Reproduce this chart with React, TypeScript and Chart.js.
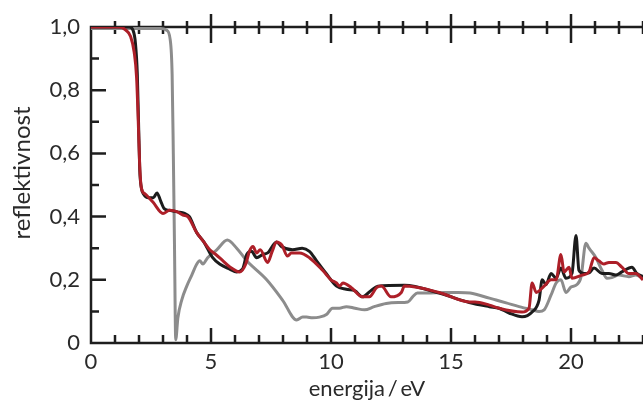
import { useEffect, useRef } from "react";
import { Chart, registerables } from "chart.js";
Chart.register(...registerables);

const redX = [0, 1.2, 1.45, 1.65, 1.8, 1.9, 1.97, 2.03, 2.1, 2.25, 2.58, 3.0, 3.28, 3.6, 3.83, 4.03, 4.4, 4.7, 4.95, 5.2, 5.5, 5.8, 6.2, 6.45, 6.6, 6.75, 6.9, 7.05, 7.36, 7.55, 7.73, 7.95, 8.19, 8.35, 8.69, 9.1, 9.65, 10.0, 10.23, 10.35, 10.5, 10.85, 11.31, 11.6, 11.9, 12.1, 12.5, 12.93, 13.06, 14.5, 15.76, 16.0, 16.6, 17.0, 17.96, 18.25, 18.38, 18.55, 18.88, 19.17, 19.38, 19.58, 19.71, 19.92, 20.04, 20.46, 20.75, 20.96, 21.16, 21.37, 21.58, 21.87, 22.12, 22.41, 22.7, 23.0];
const redY = [1.0, 1.0, 0.99, 0.97, 0.92, 0.84, 0.7, 0.56, 0.49, 0.472, 0.446, 0.41, 0.42, 0.415, 0.405, 0.4, 0.35, 0.32, 0.295, 0.28, 0.26, 0.24, 0.225, 0.25, 0.29, 0.305, 0.285, 0.295, 0.255, 0.29, 0.32, 0.31, 0.275, 0.285, 0.285, 0.27, 0.23, 0.2, 0.19, 0.18, 0.19, 0.175, 0.146, 0.146, 0.175, 0.18, 0.146, 0.16, 0.18, 0.16, 0.13, 0.13, 0.12, 0.11, 0.098, 0.11, 0.19, 0.16, 0.18, 0.2, 0.2, 0.28, 0.225, 0.24, 0.205, 0.215, 0.225, 0.27, 0.26, 0.25, 0.255, 0.255, 0.24, 0.22, 0.22, 0.2];

const blackX = [0, 1.6, 1.75, 1.85, 1.93, 1.98, 2.03, 2.1, 2.2, 2.4, 2.6, 2.75, 2.9, 3.05, 3.25, 3.6, 3.9, 4.1, 4.4, 4.7, 5.07, 5.36, 5.78, 6.07, 6.32, 6.49, 6.69, 6.9, 7.15, 7.36, 7.73, 7.94, 8.4, 8.8, 9.1, 9.4, 9.8, 10.23, 10.64, 11.0, 11.31, 11.65, 11.95, 13.06, 14.5, 15.76, 16.6, 17.0, 17.42, 17.96, 18.38, 18.67, 18.8, 18.96, 19.17, 19.38, 19.58, 19.79, 20.04, 20.21, 20.33, 20.54, 20.75, 20.96, 21.29, 21.58, 21.87, 22.12, 22.54, 22.74, 23.0];
const blackY = [1.0, 1.0, 0.99, 0.95, 0.85, 0.7, 0.55, 0.49, 0.47, 0.46, 0.46, 0.475, 0.45, 0.425, 0.42, 0.415, 0.41, 0.4, 0.35, 0.32, 0.27, 0.25, 0.234, 0.225, 0.235, 0.28, 0.29, 0.27, 0.28, 0.285, 0.32, 0.305, 0.295, 0.3, 0.29, 0.26, 0.22, 0.18, 0.17, 0.165, 0.146, 0.165, 0.18, 0.183, 0.158, 0.128, 0.115, 0.11, 0.095, 0.083, 0.098, 0.136, 0.2, 0.185, 0.22, 0.205, 0.237, 0.205, 0.22, 0.34, 0.23, 0.22, 0.222, 0.237, 0.22, 0.22, 0.215, 0.225, 0.24, 0.22, 0.21];

const grayX = [0, 2.9, 3.15, 3.3, 3.38, 3.43, 3.48, 3.53, 3.62, 3.78, 3.99, 4.2, 4.41, 4.53, 4.66, 4.86, 5.24, 5.68, 6.07, 6.49, 7.32, 7.98, 8.57, 8.82, 8.98, 9.23, 9.52, 9.81, 10.06, 10.35, 10.64, 11.0, 11.4, 11.8, 12.3, 12.8, 13.2, 13.4, 13.6, 14.0, 14.7, 15.3, 15.8, 16.6, 16.88, 17.3, 17.84, 18.38, 18.67, 18.88, 19.17, 19.38, 19.58, 19.79, 20.0, 20.25, 20.42, 20.62, 20.75, 21.04, 21.29, 21.5, 21.7, 21.99, 22.41, 22.7, 23.0];
const grayY = [0.995, 0.995, 0.99, 0.96, 0.85, 0.6, 0.3, 0.01, 0.08, 0.136, 0.18, 0.215, 0.25, 0.26, 0.25, 0.27, 0.295, 0.326, 0.3, 0.26, 0.2, 0.136, 0.073, 0.082, 0.082, 0.08, 0.082, 0.09, 0.11, 0.11, 0.115, 0.11, 0.105, 0.115, 0.125, 0.128, 0.13, 0.146, 0.158, 0.158, 0.16, 0.16, 0.158, 0.142, 0.136, 0.127, 0.115, 0.105, 0.1, 0.105, 0.152, 0.19, 0.2, 0.16, 0.177, 0.185, 0.21, 0.316, 0.3, 0.27, 0.23, 0.205, 0.207, 0.215, 0.21, 0.215, 0.205];

const xMin = 0;
const xMax = 23;
const yMin = 0;
const yMax = 1;
const xMinorStep = 1;
const xMajorEvery = 5;
const yMinorStep = 0.1;

const xTitle = "energija\u2009/\u2009eV";
const yTitle = "reflektivnost";

const FONT = "Lato";
const TEXT = "#2a2a2a";
const AXIS = "#1e1e1e";

const toPoints = (xs: number[], ys: number[]) => xs.map((x, i) => ({ x, y: ys[i] }));

const axesPlugin = {
  id: "customAxes",
  beforeDatasetsDraw(chart: any) {
    const { ctx, chartArea, scales } = chart;
    const { left, right, top, bottom } = chartArea;
    const xs = scales.x;
    const ys = scales.y;
    ctx.save();
    ctx.strokeStyle = AXIS;
    ctx.lineWidth = 2.5;
    ctx.lineCap = "butt";
    ctx.beginPath();
    ctx.moveTo(left - 1.25, top);
    ctx.lineTo(right, top);
    ctx.moveTo(left - 1.25, bottom);
    ctx.lineTo(right, bottom);
    ctx.moveTo(left, top - 1.25);
    ctx.lineTo(left, bottom + 1.25);
    ctx.stroke();
    ctx.beginPath();
    for (let v = xMin + xMinorStep; v <= xMax; v += xMinorStep) {
      const px = xs.getPixelForValue(v);
      const major = Math.round(v) % xMajorEvery === 0;
      ctx.moveTo(px, bottom);
      ctx.lineTo(px, bottom - (major ? 15 : 8));
      ctx.moveTo(px, top - (major ? 13 : 6));
      ctx.lineTo(px, top + (major ? 16 : 7));
    }
    for (let i = 1; i < Math.round((yMax - yMin) / yMinorStep); i++) {
      const v = yMin + i * yMinorStep;
      const py = ys.getPixelForValue(v);
      const major = i % 2 === 0;
      ctx.moveTo(left, py);
      ctx.lineTo(left + (major ? 15 : 8), py);
    }
    ctx.stroke();
    // rotated y-axis title
    ctx.fillStyle = TEXT;
    ctx.font = `24px ${FONT}`;
    ctx.textAlign = "center";
    ctx.textBaseline = "middle";
    ctx.translate(22, (top + bottom) / 2 - 12);
    ctx.rotate(-Math.PI / 2);
    ctx.fillText(yTitle, 0, 0);
    ctx.restore();
  },
};

export default function App() {
  const ref = useRef<HTMLCanvasElement | null>(null);
  useEffect(() => {
    if (!ref.current) return;
    const chart = new Chart(ref.current, {
      type: "line",
      data: {
        datasets: [
          { label: "red", data: toPoints(redX, redY), borderColor: "#ad1f28", borderWidth: 3, pointRadius: 0, cubicInterpolationMode: "monotone" },
          { label: "black", data: toPoints(blackX, blackY), borderColor: "#1c1c1c", borderWidth: 3, pointRadius: 0, cubicInterpolationMode: "monotone" },
          { label: "gray", data: toPoints(grayX, grayY), borderColor: "#8c8c8c", borderWidth: 3, pointRadius: 0, cubicInterpolationMode: "monotone" },
        ],
      },
      options: {
        animation: false,
        responsive: true,
        maintainAspectRatio: false,
        layout: { padding: { top: 27, left: 0, right: 0, bottom: 0 } },
        plugins: { legend: { display: false }, tooltip: { enabled: false } },
        scales: {
          x: {
            type: "linear",
            min: xMin,
            max: xMax,
            grid: { display: false, drawTicks: false },
            border: { display: false },
            afterFit: (s: any) => { s.height = 61; },
            ticks: {
              stepSize: 5,
              includeBounds: false,
              padding: 6,
              color: TEXT,
              font: { family: FONT, size: 22 },
              maxRotation: 0,
              callback: (v: any) => String(v),
            },
            title: { display: true, text: xTitle, color: TEXT, font: { family: FONT, size: 22 }, padding: { top: 0, bottom: 2 } },
          },
          y: {
            type: "linear",
            min: yMin,
            max: yMax,
            grid: { display: false, drawTicks: false },
            border: { display: false },
            afterFit: (s: any) => { s.width = 91; },
            ticks: {
              stepSize: 0.2,
              padding: 11,
              color: TEXT,
              font: { family: FONT, size: 22 },
              callback: (v: any) => (Number(v) === 0 ? "0" : Number(v).toFixed(1).replace(".", ",")),
            },
            title: { display: false, text: yTitle },
          },
        },
      },
      plugins: [axesPlugin],
    } as any);
    return () => chart.destroy();
  }, []);
  return (
    <div style={{ position: "absolute", left: 0, top: 0, width: 643, height: 404, background: "#fff" }}>
      <canvas ref={ref} />
    </div>
  );
}
